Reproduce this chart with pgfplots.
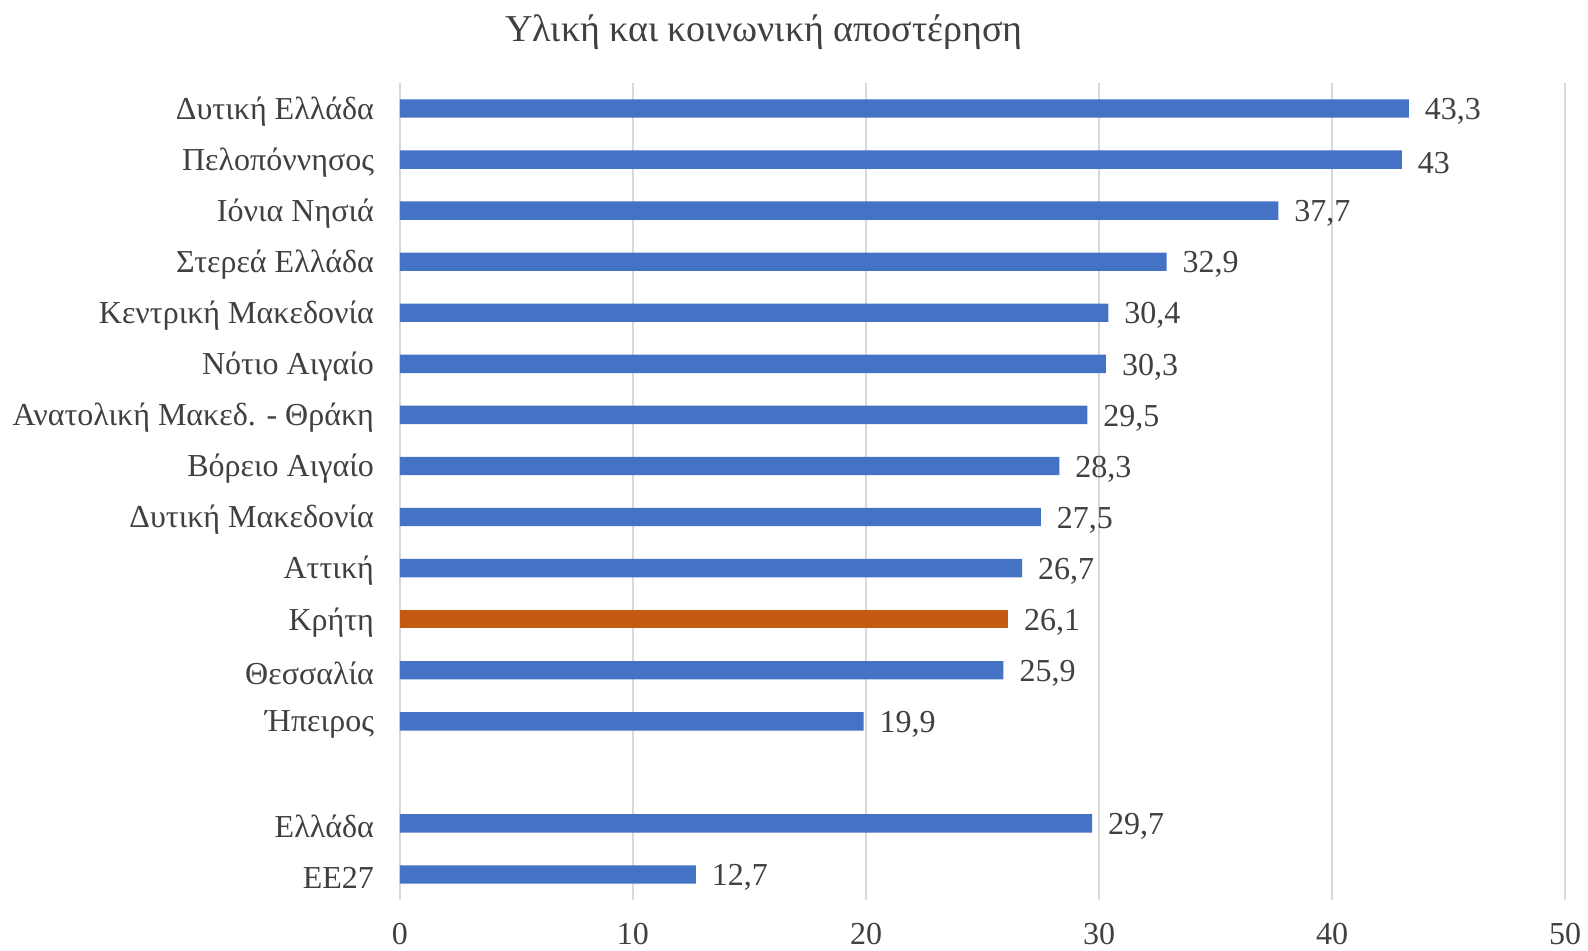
\documentclass[border=0pt]{standalone}
\usepackage{fontspec}
\setmainfont{Liberation Serif}
\usepackage{pgfplots}
\pgfplotsset{compat=1.18}
\definecolor{barblue}{HTML}{4472C4}
\definecolor{barorange}{HTML}{C55A11}
\definecolor{txt}{HTML}{404040}
\definecolor{gridc}{HTML}{D9D9D9}
\begin{document}
\fontsize{16}{19}\selectfont
\begin{tikzpicture}
\useasboundingbox (-200pt,-25pt) rectangle (594pt,450pt);
\begin{axis}[
  at={(0,0)}, anchor=south west,
  scale only axis, width=582.5pt, height=408.5pt,
  xbar, bar width=9.2pt, bar shift=0pt,
  xmin=0, xmax=50, ymin=-0.5, ymax=15.5, y dir=reverse,
  xtick={0,10,...,50},
  ytick={0,1,2,3,4,5,6,7,8,9,10,11,12,14,15},
  yticklabels={Δυτική Ελλάδα, Πελοπόννησος, Ιόνια Νησιά, Στερεά Ελλάδα, Κεντρική Μακεδονία, Νότιο Αιγαίο, Ανατολική Μακεδ. - Θράκη, Βόρειο Αιγαίο, Δυτική Μακεδονία, Αττική, Κρήτη, Θεσσαλία, Ήπειρος, Ελλάδα, ΕΕ27},
  axis line style={draw=none},
  major tick length=0pt,
  xmajorgrids, major grid style={gridc, line width=1.2pt},
  tick label style={font=\fontsize{16}{19}\selectfont, text=txt},
  /pgf/number format/assume math mode=true,
  xticklabel style={yshift=-10.5pt, inner sep=1pt},
  yticklabel style={xshift=-7.5pt, yshift=-1.5pt},
  nodes near coords,
  nodes near coords style={font=\fontsize{16}{19}\selectfont, text=txt, anchor=west, xshift=2.5pt, yshift=-1.5pt,
    /pgf/number format/.cd, use comma, assume math mode=true},
]
\addplot[fill=barblue, draw=none] coordinates {
(43.3,0) (43,1) (37.7,2) (32.9,3) (30.4,4) (30.3,5) (29.5,6) (28.3,7) (27.5,8) (26.7,9) (25.9,11) (19.9,12) (29.7,14) (12.7,15)};
\addplot[fill=barorange, draw=none] coordinates {(26.1,10)};
\end{axis}
\node[text=txt, font=\fontsize{19}{22}\selectfont] at (182pt,434pt) {Υλική και κοινωνική αποστέρηση};
\end{tikzpicture}
\end{document}
